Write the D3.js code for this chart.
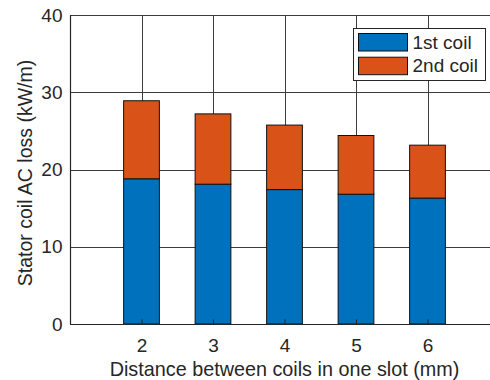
<!DOCTYPE html>
<html>
<head>
<meta charset="utf-8">
<script src="https://cdn.jsdelivr.net/npm/d3@7"></script>
<style>
    body { margin: 0; background: #fff; }
    svg { display: block; font-family: Arial, "Liberation Sans", Helvetica, sans-serif; }
</style>
</head>
<body>
<svg id="chart" width="490" height="380"></svg>
<script>
// data
const distances = [2, 3, 4, 5, 6];
const firstCoil = [18.8, 18.1, 17.4, 16.8, 16.3];
const secondCoil = [10.1, 9.1, 8.35, 7.6, 6.85];
const seriesNames = ['1st coil', '2nd coil'];
const seriesColors = ['#0072BD', '#D95319'];
const yTicks = [0, 10, 20, 30, 40];

const W = 490, H = 380;
const margin = { left: 70, top: 15, bottom: 56 };
const TEXT = '#262626';
const FS = '19px';

const svg = d3.select('#chart');

// x domain [1,7]; right end runs off the picture like in the reference
const x = d3.scaleLinear().domain([1, 7]).range([margin.left, margin.left + 6 * 71.5]);
const y = d3.scaleLinear().domain([0, 40]).range([H - margin.bottom, margin.top]);
const barW = x(1.5) - x(1);

const rows = distances.map((d, i) => ({ d, a: firstCoil[i], b: secondCoil[i] }));
const stacked = d3.stack().keys(['a', 'b'])(rows);

// grid
const grid = svg.append('g').attr('stroke', '#3c3c3c').attr('stroke-width', 1);
grid.selectAll('line.h').data(yTicks.filter(t => t > 0)).join('line')
    .attr('class', 'h')
    .attr('x1', x(1)).attr('x2', W)
    .attr('y1', d => Math.round(y(d)) + 0.5).attr('y2', d => Math.round(y(d)) + 0.5);
grid.selectAll('line.v').data(distances).join('line')
    .attr('class', 'v')
    .attr('x1', d => Math.round(x(d)) + 0.5).attr('x2', d => Math.round(x(d)) + 0.5)
    .attr('y1', y(40)).attr('y2', y(0));

// bars
svg.append('g').selectAll('g').data(stacked).join('g')
    .attr('fill', (s, i) => seriesColors[i])
    .selectAll('rect').data(s => s).join('rect')
    .attr('x', d => x(d.data.d) - barW / 2)
    .attr('width', barW)
    .attr('y', d => y(d[1]))
    .attr('height', d => y(d[0]) - y(d[1]))
    .attr('stroke', '#111')
    .attr('stroke-width', 1);

// axes
const yAxis = svg.append('g')
    .attr('transform', `translate(${Math.round(x(1)) + 0.5},0)`)
    .call(d3.axisLeft(y).tickValues(yTicks).tickFormat(d3.format('d')).tickSize(0).tickPadding(8));
const xAxis = svg.append('g')
    .attr('transform', `translate(0,${Math.round(y(0)) + 0.5})`)
    .call(d3.axisBottom(x).tickValues(distances).tickFormat(d3.format('d'))
        .tickSizeInner(-5).tickSizeOuter(0).tickPadding(12));
[yAxis, xAxis].forEach(a => {
    a.select('.domain').attr('stroke', TEXT).attr('stroke-width', 1.2);
    a.selectAll('.tick line').attr('stroke', TEXT);
    a.selectAll('.tick text').attr('fill', TEXT).style('font-size', FS);
});
xAxis.selectAll('.tick text').attr('y', 27).attr('dy', null);
xAxis.select('.domain').attr('d', `M${x(1)},0H${W}`);
yAxis.select('.domain').attr('d', `M0,${y(0)}V${y(40)}`);

// axis titles
svg.append('text')
    .attr('x', 284.5).attr('y', 376)
    .attr('text-anchor', 'middle').attr('fill', TEXT).style('font-size', '19.8px')
    .text('Distance between coils in one slot (mm)');
svg.append('text')
    .attr('transform', `translate(32,173) rotate(-90)`)
    .attr('text-anchor', 'middle').attr('fill', TEXT).style('font-size', '19.5px')
    .text('Stator coil AC loss (kW/m)');

// legend
const lg = svg.append('g').attr('transform', 'translate(353.5,28.5)');
lg.append('rect').attr('width', 132).attr('height', 52)
    .attr('fill', '#fff').attr('stroke', TEXT).attr('stroke-width', 1);
seriesNames.forEach((name, i) => {
    const row = lg.append('g').attr('transform', `translate(5,${5 + i * 23.7})`);
    row.append('rect').attr('width', 49).attr('height', 17.5)
        .attr('fill', seriesColors[i]).attr('stroke', '#111');
    row.append('text').attr('x', 54).attr('y', 15.2)
        .attr('fill', TEXT).style('font-size', FS).text(name);
});
</script>
</body>
</html>
